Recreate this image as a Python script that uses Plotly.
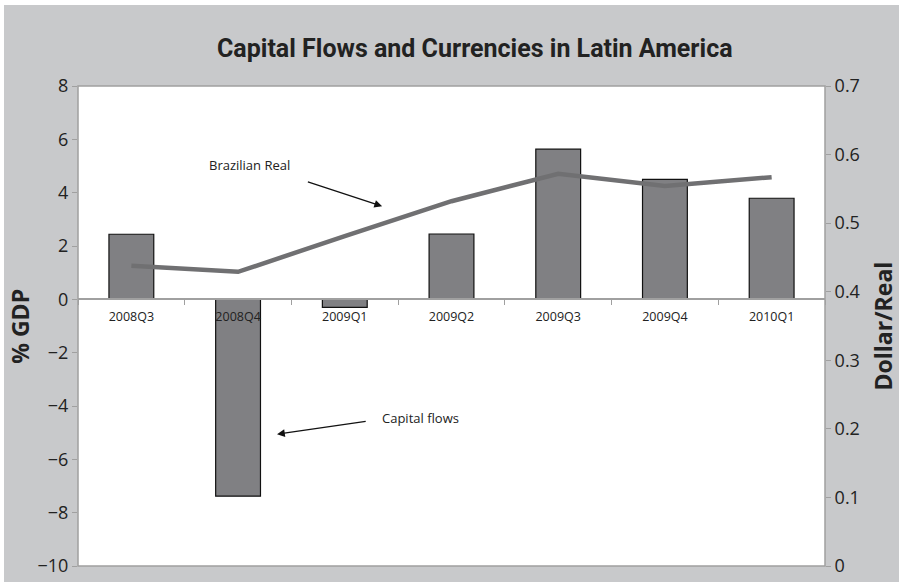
import plotly.graph_objects as go

quarters = ["2008Q3", "2008Q4", "2009Q1", "2009Q2", "2009Q3", "2009Q4", "2010Q1"]
capital_flows = [2.44, -7.38, -0.3, 2.45, 5.63, 4.5, 3.79]
brazilian_real = [0.438, 0.429, 0.481, 0.532, 0.572, 0.554, 0.567]

left_ticks = [-10, -8, -6, -4, -2, 0, 2, 4, 6, 8]
right_ticks = [0, 0.1, 0.2, 0.3, 0.4, 0.5, 0.6, 0.7]

BG = "#c8c9cb"
AX = "#a0a0a0"
TICKFONT = dict(family="Open Sans", size=18, color="#222")
TITLEFONT = dict(family="Open Sans", size=23, color="#222")

fig = go.Figure()
fig.add_trace(go.Bar(
    x=quarters, y=capital_flows, name="Capital flows",
    marker=dict(color="#808083", line=dict(color="#111", width=1.2)),
    yaxis="y",
))
fig.add_trace(go.Scatter(
    x=quarters, y=brazilian_real, name="Brazilian Real", mode="lines",
    line=dict(color="#707072", width=4.5),
    yaxis="y2",
))

fig.update_layout(
    width=895, height=577,
    paper_bgcolor=BG, plot_bgcolor="white",
    margin=dict(l=74, r=74, t=81, b=16, autoexpand=False),
    showlegend=False,
    bargap=0.58,
    title=dict(text="<b>Capital Flows and Currencies in Latin America</b>",
               x=0.526, xanchor="center", y=0.925, yanchor="middle",
               font=dict(family="Roboto", size=25, color="#222")),
    xaxis=dict(
        type="category", anchor="free", position=10 / 18, automargin=False,
        showline=True, linecolor=AX, linewidth=1.5,
        tickson="boundaries", ticks="outside", ticklen=5, tickcolor=AX,
        tickfont=dict(family="Open Sans", size=12.5, color="#222"),
        ticklabelstandoff=6,
        showgrid=False, zeroline=False,
    ),
    yaxis=dict(
        range=[-10, 8], tickvals=left_ticks, showgrid=False, zeroline=False,
        automargin=False, ticks="outside", ticklen=5, tickcolor=AX, tickfont=TICKFONT,
    ),
    yaxis2=dict(
        range=[0, 0.7], tickvals=right_ticks, overlaying="y", side="right",
        automargin=False, showgrid=False, zeroline=False, ticks="outside", ticklen=5,
        tickcolor=AX, tickfont=TICKFONT,
    ),
    shapes=[dict(type="rect", xref="paper", yref="paper", x0=0, x1=1, y0=0, y1=1,
                 line=dict(color=AX, width=1.5), layer="above")],
)

# axis titles
fig.add_annotation(xref="paper", yref="paper", x=-0.078, y=0.5, text="<b>% GDP</b>",
                   textangle=-90, showarrow=False, font=TITLEFONT, xanchor="center", yanchor="middle")
fig.add_annotation(xref="paper", yref="paper", x=1.077, y=0.5, text="<b>Dollar/Real</b>",
                   textangle=-90, showarrow=False, font=TITLEFONT, xanchor="center", yanchor="middle")

fig.add_annotation(x=1.11, y=5.02, xref="x", yref="y", text="Brazilian Real", showarrow=False,
                   font=dict(family="Open Sans", size=13, color="#222"))
fig.add_annotation(x=2.35, y=3.49, xref="x", yref="y", ax=1.64, ay=4.42, axref="x", ayref="y",
                   text="", showarrow=True, arrowhead=2, arrowsize=1.2, arrowwidth=1.3, arrowcolor="#111")
fig.add_annotation(x=2.71, y=-4.46, xref="x", yref="y", text="Capital flows", showarrow=False,
                   font=dict(family="Open Sans", size=13, color="#222"))
fig.add_annotation(x=1.365, y=-5.06, xref="x", yref="y", ax=2.21, ay=-4.57, axref="x", ayref="y",
                   text="", showarrow=True, arrowhead=2, arrowsize=1.2, arrowwidth=1.3, arrowcolor="#111")

fig.write_html("out.html", post_script="document.body.style.margin='5px 0 0 4px';")
